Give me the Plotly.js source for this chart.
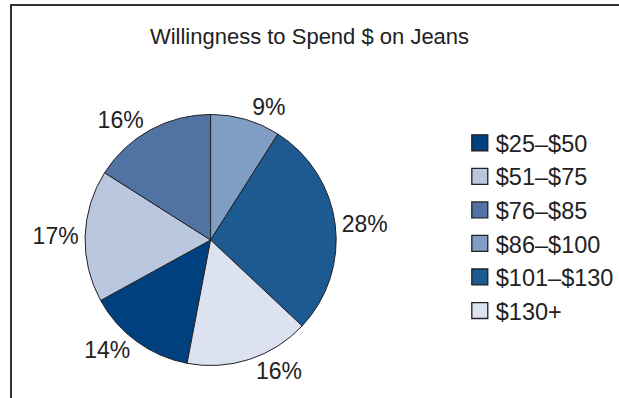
<!DOCTYPE html>
<html>
<head>
<meta charset="utf-8">
<script src="https://cdn.plot.ly/plotly-3.0.1.min.js"></script>
<style>
  html, body { margin: 0; padding: 0; background: #fff; }
  #wrap { position: relative; width: 619px; height: 398px; overflow: hidden; }
  #chart { width: 619px; height: 398px; }
  .frame-top { position: absolute; left: 10px; top: 4px; width: 609px; height: 2px; background: #333; }
  .frame-left { position: absolute; left: 10px; top: 4px; width: 2px; height: 394px; background: #333; }
  #chart .legend path.legendpie { transform: translate(24px, 0px) scale(1.33); }
</style>
</head>
<body>
<div id="wrap">
  <div id="chart"></div>
  <div class="frame-top"></div>
  <div class="frame-left"></div>
</div>
<script>
const chartTitle = 'Willingness to Spend $ on Jeans';
const categories = ['$25\u2013$50', '$51\u2013$75', '$76\u2013$85', '$86\u2013$100', '$101\u2013$130', '$130+'];
const shares = [14, 17, 16, 9, 28, 16];
const sliceColors = ['#00407f', '#b9c7df', '#5173a3', '#809dc3', '#1c5a91', '#dce2f0'];

const FONT = '"Liberation Sans", Arial, Helvetica, sans-serif';

const trace = {
  type: 'pie',
  labels: categories,
  values: shares,
  sort: false,
  direction: 'clockwise',
  rotation: -169.2,
  marker: { colors: sliceColors, line: { color: '#222', width: 1 } },
  textinfo: 'percent',
  textposition: 'outside',
  outsidetextfont: { family: FONT, size: 23, color: '#222' },
  domain: { x: [0.1390, 0.5493], y: [0.0779, 0.7161] },
  hoverinfo: 'label+percent'
};

const layout = {
  width: 619,
  height: 398,
  margin: { l: 0, r: 0, t: 0, b: 0 },
  paper_bgcolor: '#ffffff',
  font: { family: FONT, color: '#222' },
  title: {
    text: chartTitle,
    font: { family: FONT, size: 22, color: '#222' },
    x: 0.5, xanchor: 'center',
    y: 1 - 36 / 398, yanchor: 'middle', yref: 'container'
  },
  showlegend: true,
  legend: {
    x: (501 - 40) / 619, xanchor: 'left',
    y: 1 - 121 / 398, yanchor: 'top',
    font: { family: FONT, size: 23.5, color: '#222' },
    bgcolor: 'rgba(0,0,0,0)'
  }
};

Plotly.newPlot('chart', [trace], layout, { staticPlot: true });
</script>
</body>
</html>
